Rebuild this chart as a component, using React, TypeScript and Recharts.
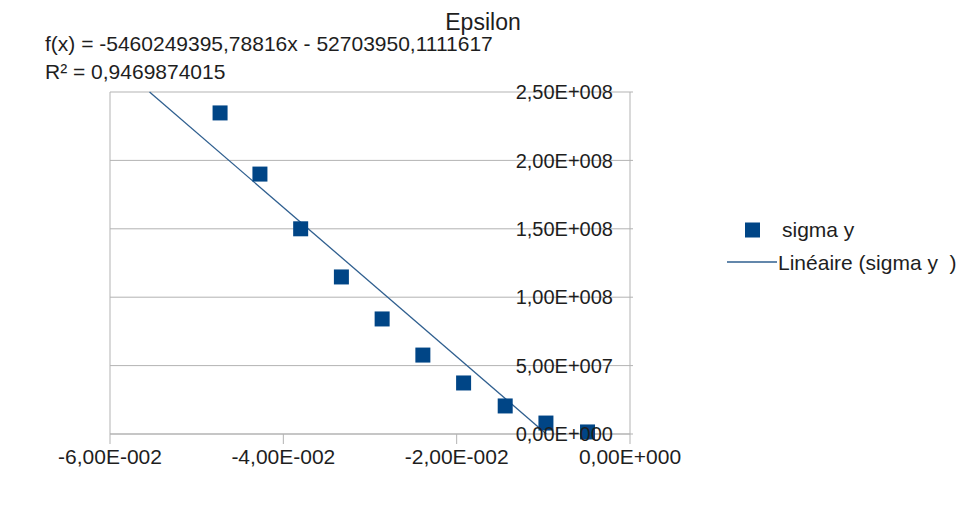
import {
  CartesianGrid,
  ReferenceLine,
  Scatter,
  ScatterChart,
  XAxis,
  YAxis,
} from "recharts";

const title = "Epsilon";
const seriesName = "sigma y";
const trendName = "Linéaire (sigma y  )";
const equation = "f(x) = -5460249395,78816x - 52703950,1111617";
const rSquared = "R² = 0,9469874015";

// strain (x) and stress (y)
const epsilon = [-0.0473, -0.0427, -0.038, -0.0333, -0.0286, -0.0239, -0.0192, -0.0144, -0.0097, -0.0049];
const sigmaY = [2.347e8, 1.9e8, 1.5e8, 1.148e8, 8.41e7, 5.77e7, 3.73e7, 2.05e7, 8.0e6, 1.5e6];

const xTicks = [-0.06, -0.04, -0.02, 0];
const yTicks = [0, 5e7, 1e8, 1.5e8, 2e8, 2.5e8];

// linear trend shown on the chart
const trendSlope = -5460249395.78816;
const trendIntercept = -52703950.1111617;

const blue = "#004586";
const trendBlue = "#2f5f8f";
const grid = "#b3b3b3";
const ink = "#1e1e1e";

const W = 961;
const H = 508;
const MARK = 15;

const points = epsilon.map((x, i) => ({ x, y: sigmaY[i] }));
const yMax = yTicks[yTicks.length - 1];
const trendPoints = [
  { x: (yMax - trendIntercept) / trendSlope, y: yMax },
  { x: -trendIntercept / trendSlope, y: 0 },
];

function sci(v: number) {
  if (v === 0) return "0,00E+000";
  const e = Math.floor(Math.log10(Math.abs(v)) + 1e-9);
  const m = v / Math.pow(10, e);
  return `${m.toFixed(2).replace(".", ",")}E${e < 0 ? "-" : "+"}${String(Math.abs(e)).padStart(3, "0")}`;
}

const Y_TICK = 3;
const Y_MARGIN = 2;

const YTick = ({ x, y, payload }: any) => (
  <text x={x - Y_TICK - Y_MARGIN - 17} y={y} dy="0.355em" textAnchor="end" fontSize={20} fill={ink}>
    {sci(payload.value)}
  </text>
);

const Square = ({ cx, cy }: any) => (
  <rect x={cx - MARK / 2} y={cy - MARK / 2} width={MARK} height={MARK} fill={blue} />
);

const noDot = () => <g />;

export default function App() {
  return (
    <div
      style={{
        position: "absolute",
        left: 0,
        top: 0,
        width: W,
        height: H,
        background: "#fff",
        fontFamily: "'Liberation Sans', Arial, sans-serif",
        color: ink,
      }}
    >
      <ScatterChart width={W} height={H} margin={{ top: 92, left: 110, right: 321, bottom: 34 }}>
        <CartesianGrid stroke={grid} vertical={false} />
        <XAxis
          dataKey="x"
          type="number"
          domain={[-0.06, 0]}
          ticks={xTicks}
          interval={0}
          tickFormatter={sci}
          tick={{ fontSize: 21, fill: ink }}
          tickSize={10}
          tickMargin={5}
          height={40}
          axisLine={{ stroke: grid }}
          tickLine={{ stroke: grid }}
        />
        <YAxis
          dataKey="y"
          type="number"
          orientation="right"
          domain={[0, yMax]}
          ticks={yTicks}
          interval={0}
          width={10}
          tickSize={Y_TICK}
          tickMargin={Y_MARGIN}
          tick={YTick}
          axisLine={{ stroke: grid }}
          tickLine={{ stroke: grid }}
        />
        <ReferenceLine x={-0.06} stroke={grid} />
        <Scatter
          name={trendName}
          data={trendPoints}
          line={{ stroke: trendBlue, strokeWidth: 1.3 }}
          shape={noDot}
          isAnimationActive={false}
        />
        <Scatter name={seriesName} data={points} shape={Square} isAnimationActive={false} />
      </ScatterChart>

      <div style={{ position: "absolute", left: 383, top: 11, width: 200, textAlign: "center", fontSize: 23, lineHeight: "23px" }}>
        {title}
      </div>
      <div style={{ position: "absolute", left: 45, top: 33, fontSize: 21, lineHeight: "21px", whiteSpace: "pre" }}>
        {equation}
      </div>
      <div style={{ position: "absolute", left: 45, top: 61, fontSize: 21, lineHeight: "21px", whiteSpace: "pre" }}>
        {rSquared}
      </div>

      <svg style={{ position: "absolute", left: 720, top: 215 }} width={60} height={60}>
        <rect x={25} y={7.5} width={MARK} height={MARK} fill={blue} />
        <line x1={7} x2={57} y1={47} y2={47} stroke={trendBlue} strokeWidth={1.3} />
      </svg>
      <div style={{ position: "absolute", left: 782, top: 219, fontSize: 21, lineHeight: "21px", whiteSpace: "pre" }}>
        {seriesName}
      </div>
      <div style={{ position: "absolute", left: 778, top: 252, fontSize: 21, lineHeight: "21px", whiteSpace: "pre" }}>
        {trendName}
      </div>
    </div>
  );
}
